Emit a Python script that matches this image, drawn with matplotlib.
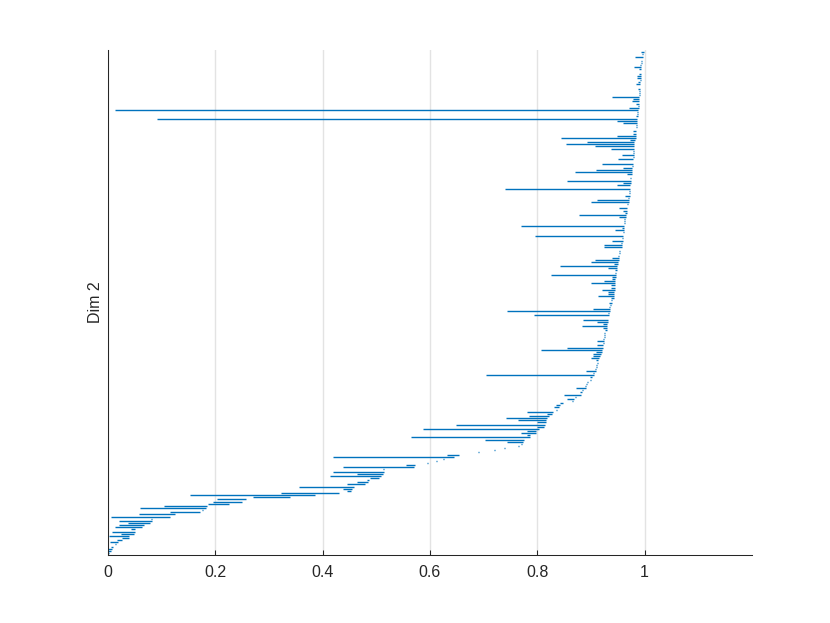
import matplotlib
matplotlib.use('Agg')
import matplotlib.pyplot as plt

# persistence barcode, bars ordered bottom -> top (sorted by death)
births = [
    0.000, 0.000, 0.000, 0.006, 0.014, 0.004, 0.017, 0.026, 0.002, 0.024,
    0.008, 0.043, 0.013, 0.020, 0.037, 0.020, 0.081, 0.005, 0.058, 0.115,
    0.176, 0.060, 0.104, 0.186, 0.196, 0.203, 0.270, 0.153, 0.322, 0.445,
    0.438, 0.356, 0.445, 0.464, 0.483, 0.488, 0.413, 0.464, 0.419, 0.513,
    0.438, 0.555, 0.595, 0.612, 0.625, 0.419, 0.631, 0.690, 0.720, 0.738,
    0.764, 0.770, 0.743, 0.702, 0.564, 0.780, 0.769, 0.780, 0.588, 0.800,
    0.648, 0.800, 0.764, 0.741, 0.784, 0.819, 0.780, 0.834, 0.832, 0.835,
    0.843, 0.864, 0.856, 0.871, 0.849, 0.879, 0.884, 0.872, 0.889, 0.891,
    0.893, 0.898, 0.899, 0.704, 0.903, 0.890, 0.907, 0.909, 0.909, 0.912,
    0.909, 0.900, 0.904, 0.904, 0.909, 0.806, 0.856, 0.912, 0.922, 0.912,
    0.923, 0.924, 0.925, 0.925, 0.927, 0.922, 0.883, 0.922, 0.912, 0.886,
    0.931, 0.793, 0.932, 0.743, 0.904, 0.934, 0.935, 0.933, 0.938, 0.937,
    0.914, 0.932, 0.932, 0.920, 0.938, 0.938, 0.900, 0.924, 0.940, 0.939,
    0.825, 0.944, 0.944, 0.931, 0.842, 0.943, 0.900, 0.907, 0.940, 0.951,
    0.952, 0.953, 0.954, 0.924, 0.925, 0.956, 0.940, 0.958, 0.795, 0.959,
    0.959, 0.944, 0.958, 0.770, 0.961, 0.962, 0.962, 0.953, 0.877, 0.963,
    0.959, 0.952, 0.967, 0.967, 0.900, 0.911, 0.969, 0.964, 0.970, 0.971,
    0.740, 0.972, 0.948, 0.960, 0.855, 0.973, 0.974, 0.968, 0.870, 0.909,
    0.959, 0.976, 0.920, 0.978, 0.951, 0.978, 0.957, 0.979, 0.979, 0.937,
    0.907, 0.853, 0.892, 0.972, 0.844, 0.948, 0.978, 0.979, 0.983, 0.983,
    0.984, 0.960, 0.949, 0.091, 0.984, 0.985, 0.986, 0.013, 0.970, 0.988,
    0.984, 0.976, 0.979, 0.940, 0.990, 0.990, 0.990, 0.987, 0.991, 0.983,
    0.988, 0.992, 0.985, 0.985, 0.989, 0.993, 0.989, 0.981, 0.992, 0.994,
    0.994, 0.995, 0.982, 0.996, 0.993,
]
deaths = [
    0.002, 0.005, 0.007, 0.010, 0.016, 0.019, 0.026, 0.039, 0.039, 0.048,
    0.050, 0.050, 0.063, 0.068, 0.078, 0.082, 0.083, 0.115, 0.125, 0.171,
    0.178, 0.182, 0.184, 0.225, 0.250, 0.257, 0.339, 0.385, 0.430, 0.452,
    0.454, 0.458, 0.479, 0.484, 0.486, 0.505, 0.508, 0.512, 0.514, 0.515,
    0.570, 0.572, 0.597, 0.614, 0.627, 0.644, 0.655, 0.692, 0.722, 0.740,
    0.766, 0.772, 0.773, 0.775, 0.786, 0.787, 0.797, 0.798, 0.803, 0.812,
    0.814, 0.817, 0.817, 0.818, 0.821, 0.828, 0.829, 0.836, 0.840, 0.843,
    0.847, 0.866, 0.868, 0.873, 0.881, 0.883, 0.886, 0.890, 0.891, 0.893,
    0.895, 0.901, 0.902, 0.906, 0.906, 0.910, 0.910, 0.911, 0.912, 0.914,
    0.914, 0.915, 0.917, 0.918, 0.920, 0.921, 0.922, 0.923, 0.924, 0.924,
    0.925, 0.926, 0.927, 0.927, 0.929, 0.929, 0.930, 0.930, 0.931, 0.932,
    0.932, 0.933, 0.934, 0.935, 0.935, 0.936, 0.937, 0.939, 0.940, 0.942,
    0.942, 0.943, 0.943, 0.944, 0.944, 0.944, 0.944, 0.945, 0.945, 0.946,
    0.946, 0.947, 0.948, 0.948, 0.949, 0.950, 0.951, 0.952, 0.952, 0.953,
    0.954, 0.955, 0.955, 0.957, 0.957, 0.958, 0.959, 0.959, 0.960, 0.960,
    0.961, 0.961, 0.962, 0.962, 0.963, 0.964, 0.964, 0.965, 0.965, 0.967,
    0.967, 0.968, 0.968, 0.969, 0.970, 0.970, 0.970, 0.972, 0.972, 0.972,
    0.973, 0.973, 0.973, 0.974, 0.974, 0.975, 0.975, 0.977, 0.977, 0.977,
    0.977, 0.978, 0.979, 0.979, 0.979, 0.980, 0.980, 0.980, 0.981, 0.981,
    0.981, 0.981, 0.981, 0.982, 0.983, 0.983, 0.983, 0.984, 0.984, 0.985,
    0.985, 0.985, 0.985, 0.985, 0.987, 0.987, 0.987, 0.988, 0.989, 0.989,
    0.989, 0.990, 0.990, 0.990, 0.991, 0.991, 0.991, 0.991, 0.992, 0.992,
    0.992, 0.993, 0.993, 0.993, 0.993, 0.994, 0.994, 0.994, 0.994, 0.995,
    0.995, 0.996, 0.997, 0.997, 0.998,
]
xticks = [0, 0.2, 0.4, 0.6, 0.8, 1]
xticklabels = ['0', '0.2', '0.4', '0.6', '0.8', '1']
ylabel = 'Dim 2'

plt.rcParams['font.family'] = ['Liberation Sans', 'DejaVu Sans']

n = len(births)
ypos = list(range(1, n + 1))

fig = plt.figure(figsize=(8.3, 6.23), dpi=100)
ax = fig.add_axes([0.13, 0.109, 0.776, 0.8106])

ax.hlines(ypos, births, deaths, colors='#0072BD', linewidth=1.0, capstyle='butt')

ax.set_xlim(0, 1.2)
ax.set_ylim(0, n + 1)
ax.set_xticks(xticks)
ax.set_xticklabels(xticklabels, fontsize=11.5, color='#262626')
ax.set_yticks([])
ax.tick_params(axis='x', direction='in', length=3.5, width=0.75, color='#262626', pad=7)

ax.grid(axis='x', color='#e3e3e3', linewidth=1.0)
ax.set_axisbelow(True)

for s in ['top', 'right']:
    ax.spines[s].set_visible(False)
for s in ['left', 'bottom']:
    ax.spines[s].set_color('#262626')
    ax.spines[s].set_linewidth(0.75)

ax.set_ylabel(ylabel, fontsize=11.5, color='#262626', labelpad=3.5)

fig.savefig('out.png', dpi=100)
